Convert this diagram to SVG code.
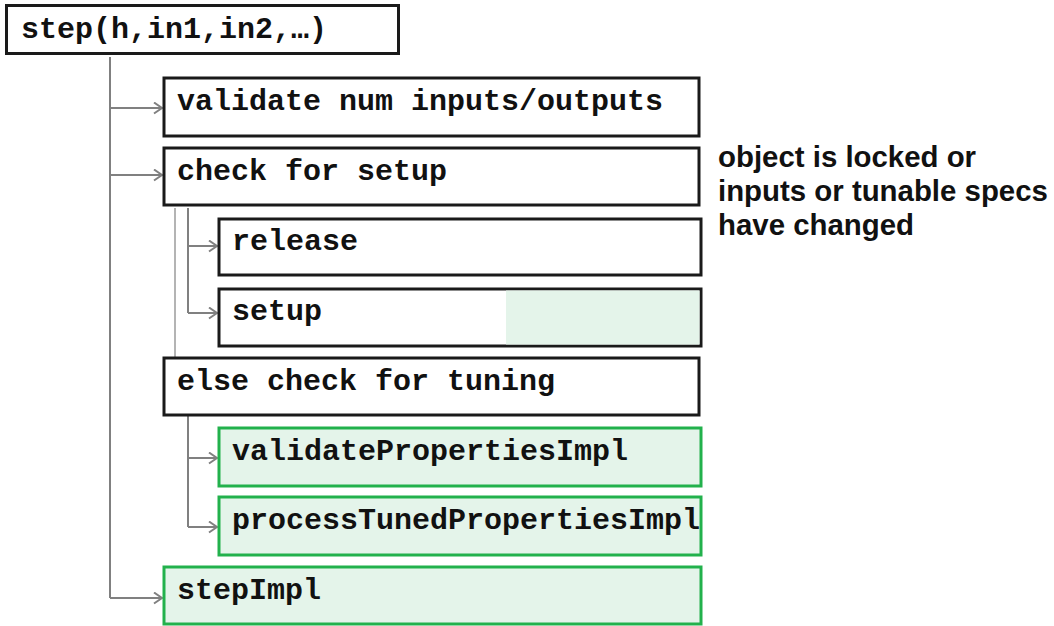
<svg xmlns="http://www.w3.org/2000/svg" width="1054" height="626" viewBox="0 0 1054 626">
<defs>
<style>
.box{fill:#ffffff;stroke:#1a1a1a;stroke-width:3}
.gbox{fill:#e4f4ea;stroke:#22b14c;stroke-width:3}
.code{font-family:"Liberation Mono","Courier New",monospace;font-weight:bold;font-size:30px;fill:#111111}
.note{font-family:"Liberation Sans",Arial,sans-serif;font-weight:bold;font-size:29.4px;fill:#111111}
.conn{fill:none;stroke:#808080;stroke-width:2}
.conn2{fill:none;stroke:#b4b4b4;stroke-width:2}
</style>
<marker id="arr" markerUnits="userSpaceOnUse" markerWidth="12" markerHeight="14" refX="9" refY="6" orient="auto">
<path d="M1,0.5 L9,6 L1,11.5" fill="none" stroke="#808080" stroke-width="2"/>
</marker>
</defs>
<rect x="0" y="0" width="1054" height="626" fill="#ffffff"/>
<g id="connectors">
<path class="conn" d="M110,57 V598"/>
<path class="conn" d="M110,108 H162" marker-end="url(#arr)"/>
<path class="conn" d="M110,175 H162" marker-end="url(#arr)"/>
<path class="conn" d="M110,598 H162" marker-end="url(#arr)"/>
<path class="conn2" d="M175,208 V357"/>
<path class="conn" d="M188,208 V313"/>
<path class="conn" d="M188,246 H217" marker-end="url(#arr)"/>
<path class="conn" d="M188,313 H217" marker-end="url(#arr)"/>
<path class="conn" d="M188,416 V527"/>
<path class="conn" d="M188,458 H217" marker-end="url(#arr)"/>
<path class="conn" d="M188,527 H217" marker-end="url(#arr)"/>
</g>
<g id="step">
<rect class="box" x="6.5" y="5.5" width="392" height="48"/>
<text class="code" x="21" y="38">step(h,in1,in2,…)</text>
</g>
<g id="validate">
<rect class="box" x="164" y="78" width="535" height="58"/>
<text class="code" x="177" y="110">validate num inputs/outputs</text>
</g>
<g id="checkSetup">
<rect class="box" x="164" y="148" width="535" height="57"/>
<text class="code" x="177" y="180">check for setup</text>
</g>
<g id="release">
<rect class="box" x="219" y="219" width="482" height="56"/>
<text class="code" x="232" y="250">release</text>
</g>
<g id="setup">
<rect class="box" x="219" y="289" width="482" height="57"/>
<rect x="506" y="290.5" width="193.5" height="54" fill="#e4f4ea"/>
<text class="code" x="232" y="320">setup</text>
</g>
<g id="elseTuning">
<rect class="box" x="164" y="358" width="535" height="57"/>
<text class="code" x="177" y="390">else check for tuning</text>
</g>
<g id="validateProps">
<rect class="gbox" x="219" y="428" width="482" height="58"/>
<text class="code" x="232" y="460">validatePropertiesImpl</text>
</g>
<g id="processTuned">
<rect class="gbox" x="219" y="497" width="482" height="58"/>
<text class="code" x="232" y="529">processTunedPropertiesImpl</text>
</g>
<g id="stepImpl">
<rect class="gbox" x="164" y="567" width="537" height="57"/>
<text class="code" x="177" y="599">stepImpl</text>
</g>
<g id="note">
<text class="note" x="718" y="167">object is locked or</text>
<text class="note" x="718" y="201">inputs or tunable specs</text>
<text class="note" x="718" y="235">have changed</text>
</g>
</svg>
